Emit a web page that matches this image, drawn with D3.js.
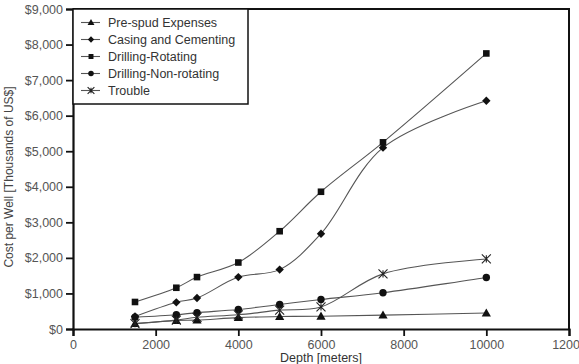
<!DOCTYPE html>
<html>
<head>
<meta charset="utf-8">
<script src="https://cdn.jsdelivr.net/npm/d3@7"></script>
<style>
  body { margin: 0; background: #fff; }
  svg { display: block; font-family: "Liberation Sans", Arial, sans-serif; }
</style>
</head>
<body>
<div id="chart"></div>
<script>
// Depths (meters)
const depths = [1500, 2500, 3000, 4000, 5000, 6000, 7500, 10000];

// Costs per well (thousands of US$)
const preSpud = [150, 240, 250, 320, 350, 360, 390, 450];
const casing = [350, 750, 870, 1460, 1670, 2680, 5100, 6420];
const rotating = [760, 1160, 1460, 1870, 2750, 3860, 5250, 7750];
const nonRotating = [330, 400, 460, 550, 690, 830, 1020, 1450];
const trouble = [150, 250, 330, 400, 530, 620, 1550, 1970];

const seriesNames = ["Pre-spud Expenses", "Casing and Cementing", "Drilling-Rotating", "Drilling-Non-rotating", "Trouble"];
const seriesValues = [preSpud, casing, rotating, nonRotating, trouble];
const seriesSymbols = ["triangle", "diamond", "square", "circle", "x"];

const xTicks = [0, 2000, 4000, 6000, 8000, 10000, 12000];
const yTicks = [0, 1000, 2000, 3000, 4000, 5000, 6000, 7000, 8000, 9000];

function draw() {
    const width = 579, height = 364;
    const margin = { top: 9, right: 10, bottom: 35, left: 73 };
    const chartWidth = width - margin.left - margin.right;
    const chartHeight = height - margin.top - margin.bottom;

    const svg = d3.select("#chart").append("svg")
        .attr("width", width)
        .attr("height", height);

    const g = svg.append("g")
        .attr("transform", `translate(${margin.left},${margin.top})`);

    const x = d3.scaleLinear().domain([0, 12000]).range([0, chartWidth]);
    const y = d3.scaleLinear().domain([0, 9000]).range([chartHeight, 0]);

    const series = seriesNames.map((name, i) => ({
        name,
        symbol: seriesSymbols[i],
        points: depths.map((d, j) => ({ depth: d, cost: seriesValues[i][j] }))
    }));

    // marker drawing helper, k scales the marker
    function addMarker(sel, symbol, cx, cy, k = 1) {
        let d;
        if (symbol === "x") {
            const s = 4.5 * k;
            sel.append("path")
                .attr("d", `M${cx - s},${cy - s}L${cx + s},${cy + s}M${cx - s},${cy + s}L${cx + s},${cy - s}M${cx},${cy - s * 0.8}L${cx},${cy + s * 0.8}`)
                .attr("stroke", "#222")
                .attr("stroke-width", 1.1)
                .attr("fill", "none");
            return;
        }
        if (symbol === "triangle") {
            const s = 4.6 * k;
            d = `M${cx},${cy - s}L${cx + s},${cy + s * 0.75}L${cx - s},${cy + s * 0.75}Z`;
        } else if (symbol === "diamond") {
            const s = 4.2 * k;
            d = `M${cx},${cy - s}L${cx + s},${cy}L${cx},${cy + s}L${cx - s},${cy}Z`;
        } else if (symbol === "square") {
            const s = 3.3 * k;
            d = `M${cx - s},${cy - s}H${cx + s}V${cy + s}H${cx - s}Z`;
        } else {
            const r = 3.7 * k;
            d = `M${cx - r},${cy}A${r},${r} 0 1,0 ${cx + r},${cy}A${r},${r} 0 1,0 ${cx - r},${cy}Z`;
        }
        sel.append("path").attr("d", d).attr("fill", "#111");
    }

    // Lines (smoothed)
    const line = d3.line()
        .x(d => x(d.depth))
        .y(d => y(d.cost))
        .curve(d3.curveCatmullRom.alpha(0.5));

    series.forEach(s => {
        g.append("path")
            .datum(s.points)
            .attr("d", line)
            .attr("fill", "none")
            .attr("stroke", "#555")
            .attr("stroke-width", 1.1);
    });

    series.forEach(s => {
        const mg = g.append("g");
        s.points.forEach(p => addMarker(mg, s.symbol, x(p.depth), y(p.cost)));
    });

    // Frame (top and right)
    g.append("path")
        .attr("d", `M0,0H${chartWidth}V${chartHeight}`)
        .attr("fill", "none")
        .attr("stroke", "#111")
        .attr("stroke-width", 2);

    // X axis
    const xAxis = g.append("g")
        .attr("transform", `translate(0,${chartHeight})`)
        .call(d3.axisBottom(x).tickValues(xTicks).tickSize(7).tickPadding(4).tickFormat(d3.format("d")));
    xAxis.select(".domain").attr("stroke", "#111").attr("stroke-width", 2.2);
    xAxis.selectAll(".tick line").attr("stroke", "#111").attr("stroke-width", 1.8);
    xAxis.selectAll(".tick text").attr("fill", "#555").style("font-size", "12.5px");

    // Y axis
    const yAxis = g.append("g")
        .call(d3.axisLeft(y).tickValues(yTicks).tickSize(7).tickPadding(3).tickFormat(d => "$" + d3.format(",")(d)));
    yAxis.select(".domain").attr("stroke", "#111").attr("stroke-width", 2.2);
    yAxis.selectAll(".tick line").attr("stroke", "#111").attr("stroke-width", 1.8);
    yAxis.selectAll(".tick text").attr("fill", "#555").style("font-size", "12.5px");

    // Axis titles
    svg.append("text")
        .attr("x", margin.left + chartWidth / 2)
        .attr("y", 362)
        .attr("text-anchor", "middle")
        .attr("fill", "#333")
        .style("font-size", "12.5px")
        .text("Depth [meters]");

    svg.append("text")
        .attr("transform", `translate(13,${margin.top + chartHeight / 2 + 8}) rotate(-90)`)
        .attr("text-anchor", "middle")
        .attr("fill", "#444")
        .style("font-size", "12px")
        .text("Cost per Well [Thousands of US$]");

    // Legend
    const legend = g.append("g");
    legend.append("rect")
        .attr("x", 0)
        .attr("y", 0)
        .attr("width", 175)
        .attr("height", 95)
        .attr("fill", "#fff")
        .attr("stroke", "#111")
        .attr("stroke-width", 1.5);

    series.forEach((s, i) => {
        const ly = 13.5 + i * 17;
        const row = legend.append("g");
        row.append("line")
            .attr("x1", 8).attr("x2", 27)
            .attr("y1", ly).attr("y2", ly)
            .attr("stroke", "#555")
            .attr("stroke-width", 1.1);
        addMarker(row, s.symbol, 18, ly, 0.75);
        row.append("text")
            .attr("x", 35)
            .attr("y", ly + 4.5)
            .attr("fill", "#333")
            .style("font-size", "12.5px")
            .text(s.name);
    });
}

draw();
</script>
</body>
</html>
